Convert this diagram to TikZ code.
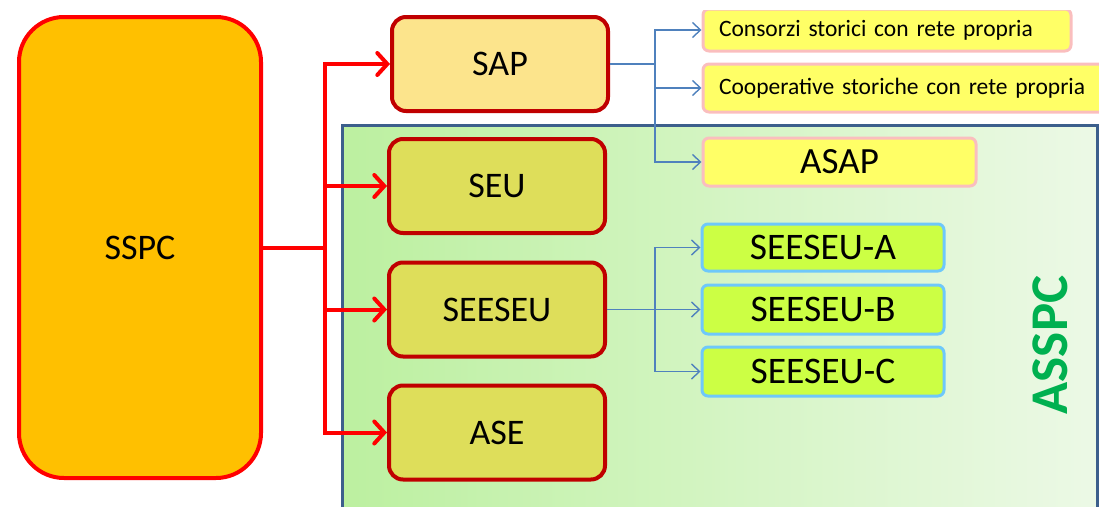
\documentclass[tikz,border=0pt]{standalone}
\usepackage{fontspec}
\setmainfont{Carlito}
\usetikzlibrary{arrows.meta}
\definecolor{sspcfill}{RGB}{255,192,0}
\definecolor{sapfill}{RGB}{252,228,140}
\definecolor{darkred}{RGB}{192,0,0}
\definecolor{olivefill}{RGB}{222,222,90}
\definecolor{yfill}{RGB}{255,255,102}
\definecolor{pinkb}{RGB}{250,190,190}
\definecolor{limefill}{RGB}{204,255,68}
\definecolor{skyb}{RGB}{110,200,250}
\definecolor{linkblue}{RGB}{79,129,189}
\definecolor{frameblue}{RGB}{60,95,140}
\definecolor{gl}{RGB}{188,240,160}
\definecolor{gr}{RGB}{236,249,230}
\definecolor{assgreen}{RGB}{0,176,80}
\begin{document}
\begin{tikzpicture}[x=1pt,y=-1pt,
  mainbox/.style={draw=darkred, line width=4pt, fill=olivefill, rounded corners=14pt,
    minimum width=216pt, minimum height=94pt, inner sep=0pt,
    font=\fontsize{36}{40}\selectfont},
  leafbox/.style={draw=pinkb, line width=3pt, fill=yfill, rounded corners=6pt,
    inner ysep=0pt, inner xsep=16pt, align=left,
    font=\fontsize{23.5}{27}\selectfont},
  subbox/.style={draw=skyb, line width=3pt, fill=limefill, rounded corners=6pt,
    minimum width=242pt, minimum height=47pt, inner sep=0pt,
    font=\fontsize{37.5}{42}\selectfont},
  redline/.style={draw=red, line width=4pt},
  redarrow/.style={draw=red, line width=4pt, -{Straight Barb[length=10pt,width=22pt,line cap=round]}},
  bluearrow/.style={draw=linkblue, line width=1.4pt, -{Straight Barb[length=8pt,width=15pt]}},
  blueline/.style={draw=linkblue, line width=1.4pt}
]
\useasboundingbox (0,0) rectangle (1099,506);
\clip (0,10) rectangle (1099,506);
% container
\shade[left color=gl, right color=gr] (342,125) rectangle (1097,520);
\draw[frameblue, line width=3pt] (342,525) -- (342,125) -- (1097,125) -- (1097,525);
\node[assgreen, rotate=90, font=\fontsize{53}{58}\selectfont\bfseries] (asspc) at (1050,345) {ASSPC};

% main nodes
\node[mainbox, draw=red, fill=sspcfill, rounded corners=45pt, minimum width=242pt, minimum height=461pt] (sspc) at (140,247.5) {SSPC};
\node[mainbox, fill=sapfill] (sap) at (500,64) {SAP};
\node[mainbox] (seu) at (497,186) {SEU};
\node[mainbox] (see) at (497,309.5) {SEESEU};
\node[mainbox] (ase) at (497,432.5) {ASE};

% leaf nodes
\node[leafbox, text width=336pt, minimum height=42pt] (cons) at (887,30) {Consorzi storici con rete propria};
\node[leafbox, text width=370pt, minimum height=48pt] (coop) at (904,88) {Cooperative storiche con rete propria};
\node[leafbox, align=center, inner xsep=0pt, minimum width=273pt, minimum height=48pt, font=\fontsize{37}{42}\selectfont] (asap) at (839.5,162) {ASAP};

\node[subbox] (sa) at (823,247.5) {SEESEU-A};
\node[subbox, minimum height=49pt] (sb) at (823,309.5) {SEESEU-B};
\node[subbox, minimum height=49pt] (sc) at (823,371.5) {SEESEU-C};

% red connectors
\coordinate (rt) at (325,247.5);
\draw[redline] (sspc.east) -- (rt);
\draw[redarrow] (rt) |- (sap.west);
\draw[redarrow] (rt) |- (seu.west);
\draw[redarrow] (rt) |- (see.west);
\draw[redarrow] (rt) |- (ase.west);

% blue connectors
\coordinate (bt1) at (655,64);
\draw[blueline] (sap.east) -- (bt1);
\draw[bluearrow] (bt1) |- (cons.west);
\draw[bluearrow] (bt1) |- (coop.west);
\draw[bluearrow] (bt1) |- (asap.west);

\coordinate (bt2) at (655,309.5);
\draw[blueline] (see.east) -- (bt2);
\draw[bluearrow] (bt2) |- (sa.west);
\draw[bluearrow] (bt2) |- (sb.west);
\draw[bluearrow] (bt2) |- (sc.west);
\end{tikzpicture}
\end{document}
